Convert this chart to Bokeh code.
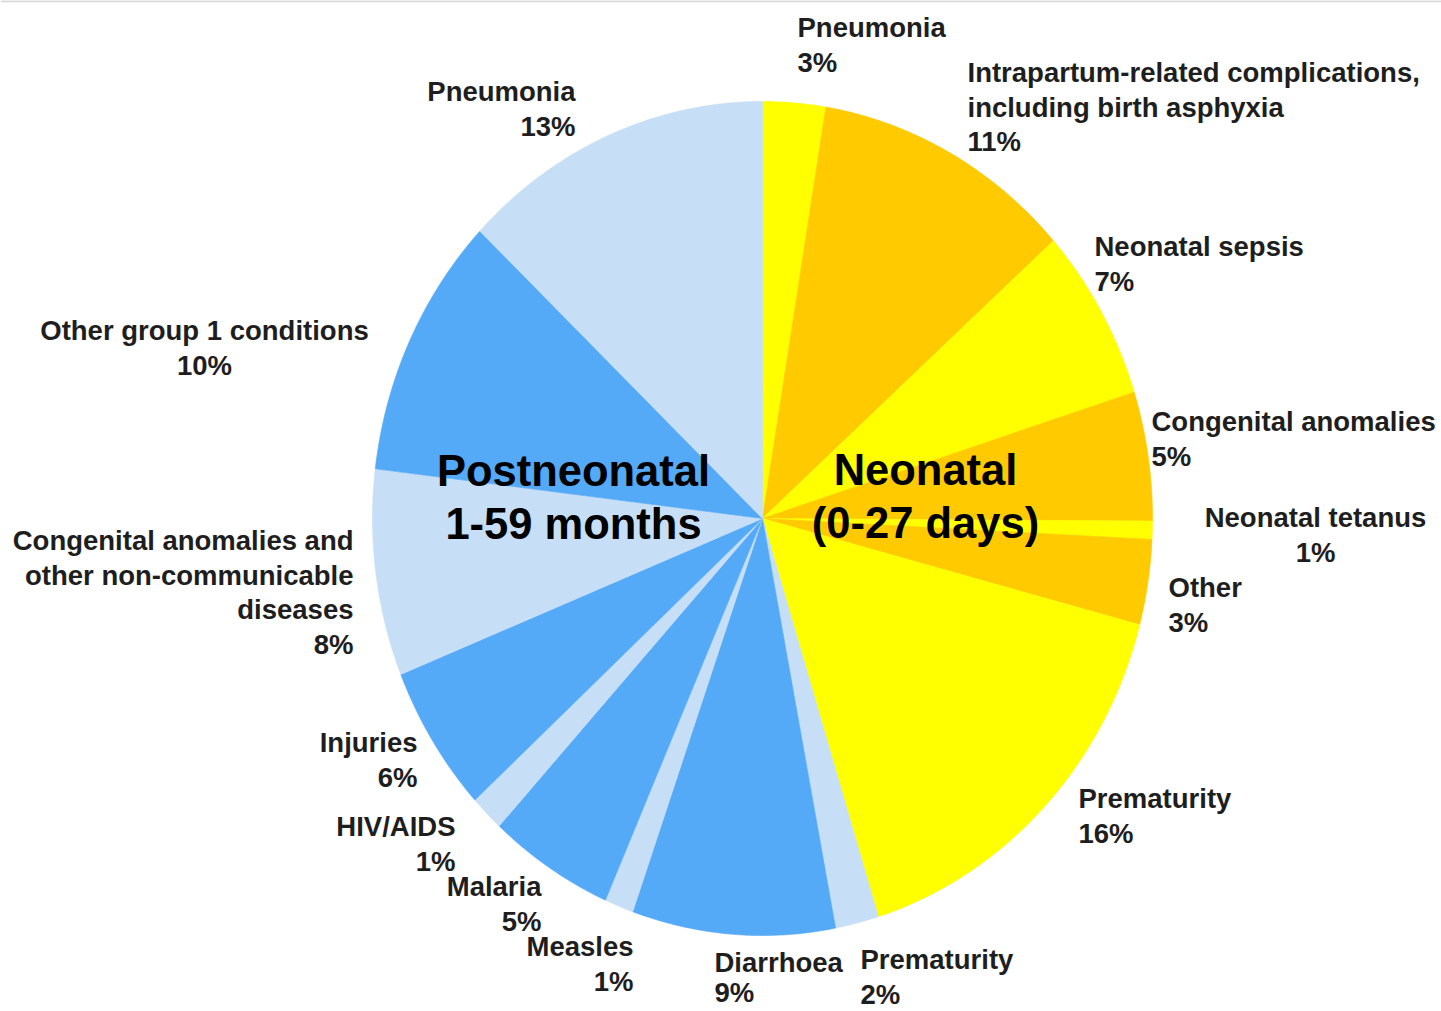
import numpy as np
from bokeh.plotting import figure
from bokeh.models import Range1d, ColumnDataSource
from bokeh.core.properties import value
from bokeh.embed import file_html
from bokeh.resources import INLINE

# ---------------- data ----------------
causes = [
    "Pneumonia",
    "Intrapartum-related complications,\nincluding birth asphyxia",
    "Neonatal sepsis",
    "Congenital anomalies",
    "Neonatal tetanus",
    "Other",
    "Prematurity",
    "Prematurity",
    "Diarrhoea",
    "Measles",
    "Malaria",
    "HIV/AIDS",
    "Injuries",
    "Congenital anomalies and\nother non-communicable\ndiseases",
    "Other group 1 conditions",
    "Pneumonia",
]
shares = [2.6, 10.8, 6.7, 5.0, 0.7, 3.3, 16.1, 1.8, 8.4, 1.2, 5.2, 1.4, 5.7, 8.0, 10.2, 12.9]
pct_labels = ["3%", "11%", "7%", "5%", "1%", "3%", "16%", "2%", "9%", "1%", "5%", "1%", "6%", "8%", "10%", "13%"]
period = ["neo"] * 7 + ["post"] * 9
group_titles = ["Postneonatal\n1-59 months", "Neonatal\n(0-27 days)"]

# ---------------- styling / layout ----------------
YELLOW = "#FFFF00"
ORANGE = "#FFCA00"
LIGHT_BLUE = "#C6DFF6"
BLUE = "#55AAF7"
colors = [YELLOW, ORANGE, YELLOW, ORANGE, YELLOW, ORANGE, YELLOW,
          LIGHT_BLUE, BLUE, LIGHT_BLUE, BLUE, LIGHT_BLUE, BLUE, LIGHT_BLUE, BLUE, LIGHT_BLUE]

CX, CY, RX, RY = 762, 518, 390, 417
W, H = 1441, 1011

# label anchor (first line centre y), alignment, line gap
label_layout = [
    (797, 27, "left", 34.5),
    (967, 72, "left", 34.5),
    (1094, 246, "left", 34.5),
    (1151, 421, "left", 34.5),
    (1315, 517, "center", 34.5),
    (1168, 587, "left", 34.5),
    (1078, 798, "left", 34.5),
    (860, 959, "left", 34.5),
    (714, 962, "left", 30.0),
    (633, 946, "right", 34.5),
    (541, 886, "right", 34.5),
    (455, 826, "right", 34.5),
    (417, 742, "right", 34.5),
    (353, 540, "right", 34.5),
    (204, 330, "center", 34.5),
    (575, 91, "right", 34.5),
]
FONT = value("Liberation Sans")

p = figure(width=W, height=H, output_backend="svg", toolbar_location=None,
           x_range=Range1d(0, W), y_range=Range1d(H, 0),
           min_border=0)
p.axis.visible = False
p.grid.visible = False
p.outline_line_color = None
p.background_fill_color = "white"
p.border_fill_color = "white"

# thin frame line at the top edge
p.segment(x0=[0], y0=[0.8], x1=[W], y1=[0.8], line_color="#D6D6D6", line_width=2)

# slices
total = sum(shares)
cum = np.concatenate([[0], np.cumsum(shares)]) / total * 2 * np.pi
xs, ys = [], []
for a0, a1 in zip(cum[:-1], cum[1:]):
    t = np.linspace(a0, a1, max(int((a1 - a0) * 120), 4))
    xs.append(np.concatenate([[CX], CX + RX * np.sin(t), [CX]]).tolist())
    ys.append(np.concatenate([[CY], CY - RY * np.cos(t), [CY]]).tolist())
src = ColumnDataSource(dict(xs=xs, ys=ys, color=colors, cause=causes, share=shares))
p.patches("xs", "ys", source=src, fill_color="color", line_color="color", line_width=0.6)

# labels
lx, ly, lt, la = [], [], [], []
for (x0, y0, al, gap), name, pc in zip(label_layout, causes, pct_labels):
    lines = name.split("\n") + [pc]
    for i, ln in enumerate(lines):
        lx.append(x0)
        ly.append(y0 + i * gap)
        lt.append(ln)
        la.append(al)
for al in ("left", "center", "right"):
    idx = [i for i, a in enumerate(la) if a == al]
    if not idx:
        continue
    p.text(x=[lx[i] for i in idx], y=[ly[i] for i in idx], text=[lt[i] for i in idx],
           text_font=FONT, text_font_style="bold", text_font_size="27.5px",
           text_color="#1e1e1e", text_align=al, text_baseline="middle")

# group titles
title_pos = [(573, 470), (925, 469)]
for (tx, ty), tt in zip(title_pos, group_titles):
    for i, ln in enumerate(tt.split("\n")):
        p.text(x=[tx], y=[ty + i * 53], text=[ln], text_font=FONT, text_font_style="bold",
               text_font_size="43.5px", text_color="#000000", text_align="center",
               text_baseline="middle")

open("out.html", "w").write(file_html(p, INLINE))
